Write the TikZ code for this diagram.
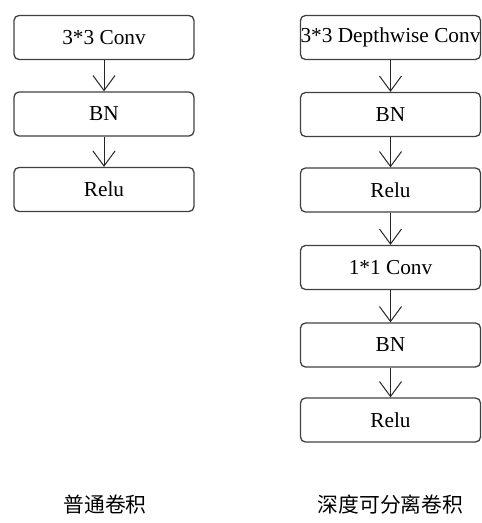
\documentclass[tikz,border=0pt]{standalone}
\usepackage{fontspec}
\setmainfont{Liberation Serif}
\newfontfamily\cjk{Noto Sans CJK SC}
\usetikzlibrary{arrows.meta}
\begin{document}
\begin{tikzpicture}[x=1pt,y=-1pt,
  blk/.style={draw=black!75,line width=1.3pt,rounded corners=5pt,minimum width=180pt,minimum height=44pt,inner sep=0pt,font=\fontsize{21.3}{24}\selectfont},
  conn/.style={draw=black!85,line width=1pt,-{Straight Barb[length=15pt,width=22pt,line width=1pt]}},
  lbl/.style={font=\cjk\fontsize{20.8}{24}\selectfont\addfontfeature{}}]
\useasboundingbox (0,0) rectangle (482,523);
\node[blk] (a1) at (104,37.5) {3*3 Conv};
\node[blk] (a2) at (104,114) {BN};
\node[blk] (a3) at (104,189.5) {Relu};
\draw[conn] (a1) -- (a2);
\draw[conn] (a2) -- (a3);
\node[blk] (b1) at (390.5,37.5) {3*3 Depthwise Conv};
\node[blk] (b2) at (390.5,114.5) {BN};
\node[blk] (b3) at (390.5,190) {Relu};
\node[blk] (b4) at (390.5,267.5) {1*1 Conv};
\node[blk] (b5) at (390.5,345) {BN};
\node[blk] (b6) at (390.5,420) {Relu};
\draw[conn] (b1) -- (b2);
\draw[conn] (b2) -- (b3);
\draw[conn] (b3) -- (b4);
\draw[conn] (b4) -- (b5);
\draw[conn] (b5) -- (b6);
\node[lbl] (l1) at (105,505) {普通卷积};
\node[lbl] (l2) at (390.5,505) {深度可分离卷积};
\end{tikzpicture}
\end{document}
